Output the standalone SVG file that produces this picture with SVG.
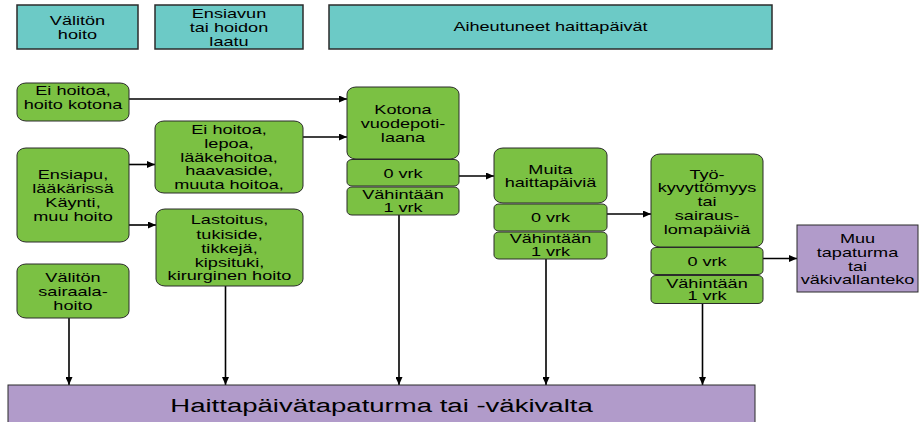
<svg xmlns="http://www.w3.org/2000/svg" width="919" height="422" viewBox="0 0 919 422">
<style>
.hd{fill:#6CCAC6;stroke:#2b2b2b;stroke-width:1.5}
.gn{fill:#7BC143;stroke:#2b2b2b;stroke-width:1}
.pu{fill:#B19BCA;stroke:#2b2b2b;stroke-width:1}
text{font-family:"Liberation Sans",Arial,sans-serif;font-size:12.5px;text-anchor:middle;fill:#000}
text.big{font-size:19px}
.c{stroke:#000;stroke-width:1.6;fill:none;marker-end:url(#ah)}
</style>
<defs>
<marker id="ah" markerUnits="userSpaceOnUse" markerWidth="9" markerHeight="7" refX="8" refY="3.5" orient="auto">
<path d="M0,0 L8,3.5 L0,7 z" fill="#000"/>
</marker>
</defs>
<rect width="919" height="422" fill="#fff"/>
<g id="hdr1"><rect class="hd" x="17" y="5" width="121" height="44"/>
<text transform="translate(77.5 0) scale(1.45 1)"><tspan x="0" y="25.5">Välitön</tspan><tspan x="0" y="39.5">hoito</tspan></text></g>
<g id="hdr2"><rect class="hd" x="155" y="5" width="148" height="44"/>
<text transform="translate(229 0) scale(1.45 1)"><tspan x="0" y="18.5">Ensiavun</tspan><tspan x="0" y="32.2">tai hoidon</tspan><tspan x="0" y="46">laatu</tspan></text></g>
<g id="hdr3"><rect class="hd" x="329" y="5" width="443" height="44"/>
<text transform="translate(550.5 0) scale(1.45 1)"><tspan x="0" y="31">Aiheutuneet haittapäivät</tspan></text></g>

<g id="connectors">
<line class="c" x1="129" y1="99" x2="347" y2="99"/>
<line class="c" x1="303" y1="137" x2="347" y2="137"/>
<line class="c" x1="129" y1="164.5" x2="155" y2="164.5"/>
<line class="c" x1="129" y1="225" x2="156" y2="225"/>
<line class="c" x1="459" y1="176" x2="494" y2="176"/>
<line class="c" x1="607" y1="214" x2="651" y2="214"/>
<line class="c" x1="763" y1="258.5" x2="797" y2="258.5"/>
<line class="c" x1="69" y1="318" x2="69" y2="385"/>
<line class="c" x1="225.5" y1="286" x2="225.5" y2="385"/>
<line class="c" x1="399" y1="215" x2="399" y2="385"/>
<line class="c" x1="546" y1="259" x2="546" y2="385"/>
<line class="c" x1="702.5" y1="303" x2="702.5" y2="385"/>
</g>

<g id="n1"><rect class="gn" x="17" y="83" width="112" height="38" rx="9" ry="7"/>
<text transform="translate(73 0) scale(1.45 1)"><tspan x="0" y="95">Ei hoitoa,</tspan><tspan x="0" y="109.5">hoito kotona</tspan></text></g>
<g id="n2"><rect class="gn" x="17" y="148" width="112" height="94" rx="9" ry="7"/>
<text transform="translate(73 0) scale(1.45 1)"><tspan x="0" y="178.8">Ensiapu,</tspan><tspan x="0" y="193.2">lääkärissä</tspan><tspan x="0" y="207.2">Käynti,</tspan><tspan x="0" y="221.2">muu hoito</tspan></text></g>
<g id="n3"><rect class="gn" x="17" y="264" width="112" height="54" rx="9" ry="7"/>
<text transform="translate(73 0) scale(1.45 1)"><tspan x="0" y="282">Välitön</tspan><tspan x="0" y="296.5">sairaala-</tspan><tspan x="0" y="310">hoito</tspan></text></g>
<g id="n4"><rect class="gn" x="155" y="121" width="148" height="72" rx="9" ry="7"/>
<text transform="translate(229 0) scale(1.45 1)"><tspan x="0" y="134.5">Ei hoitoa,</tspan><tspan x="0" y="148">lepoa,</tspan><tspan x="0" y="161.8">lääkehoitoa,</tspan><tspan x="0" y="175.2">haavaside,</tspan><tspan x="0" y="188.8">muuta hoitoa,</tspan></text></g>
<g id="n5"><rect class="gn" x="156" y="209" width="147" height="77" rx="9" ry="7"/>
<text transform="translate(229.5 0) scale(1.45 1)"><tspan x="0" y="224.5">Lastoitus,</tspan><tspan x="0" y="238.8">tukiside,</tspan><tspan x="0" y="252.8">tikkejä,</tspan><tspan x="0" y="266.8">kipsituki,</tspan><tspan x="0" y="280.5">kirurginen hoito</tspan></text></g>

<g id="n6"><rect class="gn" x="347" y="87" width="112" height="72" rx="9" ry="7"/>
<text transform="translate(403 0) scale(1.45 1)"><tspan x="0" y="114.5">Kotona</tspan><tspan x="0" y="128.5">vuodepoti-</tspan><tspan x="0" y="142.2">laana</tspan></text></g>
<g id="n6a"><rect class="gn" x="347" y="159.5" width="112" height="26.5" rx="5" ry="4"/>
<text transform="translate(403 0) scale(1.45 1)"><tspan x="0" y="178.5">0 vrk</tspan></text></g>
<g id="n6b"><rect class="gn" x="347" y="187" width="112" height="28" rx="5" ry="4"/>
<text transform="translate(403 0) scale(1.45 1)"><tspan x="0" y="199.5">Vähintään</tspan><tspan x="0" y="211.8">1 vrk</tspan></text></g>

<g id="n7"><rect class="gn" x="494" y="148" width="113" height="55" rx="9" ry="7"/>
<text transform="translate(550.5 0) scale(1.45 1)"><tspan x="0" y="174.5">Muita</tspan><tspan x="0" y="187.2">haittapäiviä</tspan></text></g>
<g id="n7a"><rect class="gn" x="494" y="204" width="113" height="27" rx="5" ry="4"/>
<text transform="translate(550.5 0) scale(1.45 1)"><tspan x="0" y="221.8">0 vrk</tspan></text></g>
<g id="n7b"><rect class="gn" x="494" y="232" width="113" height="27" rx="5" ry="4"/>
<text transform="translate(550.5 0) scale(1.45 1)"><tspan x="0" y="243.5">Vähintään</tspan><tspan x="0" y="256.2">1 vrk</tspan></text></g>

<g id="n8"><rect class="gn" x="651" y="154" width="112" height="93" rx="9" ry="7"/>
<text transform="translate(707 0) scale(1.45 1)"><tspan x="0" y="178.8">Työ-</tspan><tspan x="0" y="191.8">kyvyttömyys</tspan><tspan x="0" y="206.2">tai</tspan><tspan x="0" y="220.5">sairaus-</tspan><tspan x="0" y="233.8">lomapäiviä</tspan></text></g>
<g id="n8a"><rect class="gn" x="651" y="247.5" width="112" height="27" rx="5" ry="4"/>
<text transform="translate(707 0) scale(1.45 1)"><tspan x="0" y="266.5">0 vrk</tspan></text></g>
<g id="n8b"><rect class="gn" x="651" y="275.5" width="112" height="28" rx="5" ry="4"/>
<text transform="translate(707 0) scale(1.45 1)"><tspan x="0" y="287.8">Vähintään</tspan><tspan x="0" y="300.5">1 vrk</tspan></text></g>

<g id="n9"><rect class="pu" x="797" y="225" width="121" height="67"/>
<text transform="translate(857.5 0) scale(1.45 1)"><tspan x="0" y="242.8">Muu</tspan><tspan x="0" y="257.2">tapaturma</tspan><tspan x="0" y="271.2">tai</tspan><tspan x="0" y="284.5">väkivallanteko</tspan></text></g>

<g id="bottom"><rect class="pu" x="8" y="385" width="747" height="45"/>
<text class="big" transform="translate(381.5 0) scale(1.45 1)"><tspan x="0" y="412">Haittapäivätapaturma tai -väkivalta</tspan></text></g>
</svg>
